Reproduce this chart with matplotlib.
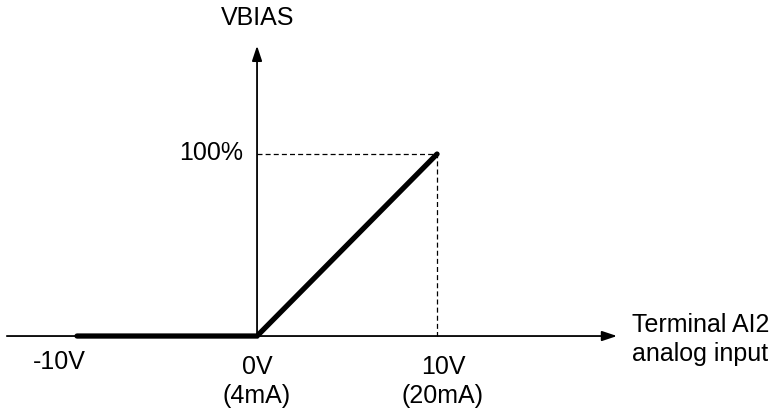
import matplotlib.pyplot as plt

plt.rcParams['font.family'] = ['Liberation Sans', 'DejaVu Sans']

# input voltage (V) vs bias (%)
volts = [-10, 0, 10]
bias = [0, 0, 100]
x_ticks = [-10, 0, 10]
x_labels = ['-10V', '0V\n(4mA)', '10V\n(20mA)']
y_label = '100%'
x_title = 'Terminal AI2\nanalog input'
y_title = 'VBIAS'

fig = plt.figure(figsize=(7.74, 4.10), dpi=100)
ax = fig.add_axes([0, 0, 1, 1])
ax.set_xlim(-14.28, 28.72)
ax.set_ylim(-40.1, 185.2)
ax.axis('off')

# axes with arrows
ax.annotate('', xy=(20.0, 0), xytext=(-13.9, 0),
            arrowprops=dict(arrowstyle='-|>,head_length=0.9,head_width=0.3',
                            color='black', lw=1.3, shrinkA=0, shrinkB=0))
ax.annotate('', xy=(0, 159.5), xytext=(0, 0),
            arrowprops=dict(arrowstyle='-|>,head_length=0.9,head_width=0.3',
                            color='black', lw=1.3, shrinkA=0, shrinkB=0))

# dashed guides to the 100% point
ax.plot([0, volts[-1], volts[-1]], [bias[-1], bias[-1], 0],
        color='black', lw=0.9, ls=(0, (4, 2.5)))

# characteristic
ax.plot(volts, bias, color='black', lw=3.8, solid_capstyle='round',
        solid_joinstyle='miter')

fs = 18
ax.text(-11.0, -13.5, x_labels[0], ha='center', va='center', fontsize=fs)
ax.text(0, -24.5, x_labels[1], ha='center', va='center', fontsize=fs,
        linespacing=1.3)
ax.text(10.33, -24.5, x_labels[2], ha='center', va='center', fontsize=fs,
        linespacing=1.3)
ax.text(-0.78, 101, y_label, ha='right', va='center', fontsize=fs)
ax.text(20.83, -1.5, x_title, ha='left', va='center', fontsize=fs,
        linespacing=1.25)
ax.text(0.05, 175.3, y_title, ha='center', va='center', fontsize=fs)

fig.savefig('out.png', dpi=100)
